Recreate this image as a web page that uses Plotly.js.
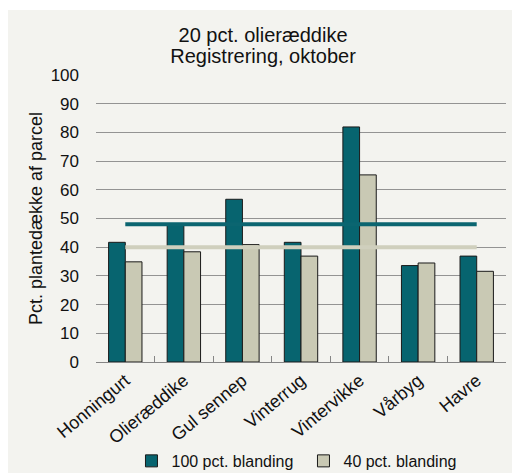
<!DOCTYPE html>
<html>
<head>
<meta charset="utf-8">
<script src="https://cdn.plot.ly/plotly-3.0.1.min.js"></script>
<style>
  html, body { margin: 0; padding: 0; background: #ffffff; }
  #chart { position: absolute; left: 8px; top: 10px; width: 504px; height: 463px; }
</style>
</head>
<body>
<div id="chart"></div>
<script>
// ---- data ----
const categories = ["Honningurt", "Olieræddike", "Gul sennep", "Vinterrug", "Vintervikke", "Vårbyg", "Havre"];
const series100 = [41.7, 47.7, 56.7, 41.7, 81.9, 33.6, 36.9];
const series40 = [34.9, 38.4, 40.9, 36.9, 65.2, 34.5, 31.6];
const seriesNames = ["100 pct. blanding", "40 pct. blanding"];
const avg100 = 48;
const avg40 = 40;
const yTicks = [0, 10, 20, 30, 40, 50, 60, 70, 80, 90, 100];
const titleLines = ["20 pct. olieræddike", "Registrering, oktober"];
const yTitle = "Pct. plantedække af parcel";

const dark = "#07646f";
const light = "#c9c9b4";
const font = "Liberation Sans, Arial, sans-serif";

const traces = [
  {
    type: "bar", name: seriesNames[0], x: categories, y: series100,
    marker: { color: dark, line: { color: "#1a1a1a", width: 1 } }
  },
  {
    type: "bar", name: seriesNames[1], x: categories, y: series40,
    marker: { color: light, line: { color: "#1a1a1a", width: 1 } }
  },
  {
    type: "scatter", mode: "lines", showlegend: false, hoverinfo: "skip",
    x: categories, y: categories.map(() => avg100),
    line: { color: "#0b6570", width: 4 }
  },
  {
    type: "scatter", mode: "lines", showlegend: false, hoverinfo: "skip",
    x: categories, y: categories.map(() => avg40),
    line: { color: "#cfcfbd", width: 4 }
  }
];

const layout = {
  width: 504, height: 463,
  paper_bgcolor: "#f3f3ef", plot_bgcolor: "#f3f3ef",
  margin: { l: 88, r: 6, t: 65, b: 111, pad: 0 },
  font: { family: font, color: "#111111", size: 17 },
  barmode: "group", bargap: 0.43, bargroupgap: 0,
  title: {
    text: '<span style="font-size:20px">' + titleLines[0] + '</span><br><span style="font-size:20px">' + titleLines[1] + '</span>',
    font: { family: font, size: 16, color: "#111111" },
    xref: "container", x: 0.506, xanchor: "center",
    yref: "container", y: 0.93, yanchor: "top"
  },
  xaxis: {
    type: "category",
    tickangle: -40,
    tickfont: { size: 18 },
    showline: true, linecolor: "#858585", linewidth: 1,
    ticks: "inside", tickson: "boundaries", ticklen: 6, tickcolor: "#858585",
    showgrid: false, zeroline: false, automargin: false
  },
  yaxis: {
    range: [0, 100], tickvals: yTicks,
    tickfont: { size: 17 },
    showgrid: true, gridcolor: "#939393", gridwidth: 1,
    zeroline: false, showline: false, ticks: "",
    ticklabelstandoff: 16,
    automargin: false,
    title: { text: yTitle, font: { size: 18 }, standoff: 3 }
  },
  legend: {
    orientation: "h",
    xref: "container", yref: "container",
    x: 0.245, xanchor: "left",
    y: 0.026, yanchor: "middle",
    entrywidthmode: "pixels", entrywidth: 127,
    font: { size: 16 },
    bgcolor: "rgba(0,0,0,0)"
  },
  showlegend: true
};

Plotly.newPlot("chart", traces, layout, { displayModeBar: false, staticPlot: true });
</script>
</body>
</html>
